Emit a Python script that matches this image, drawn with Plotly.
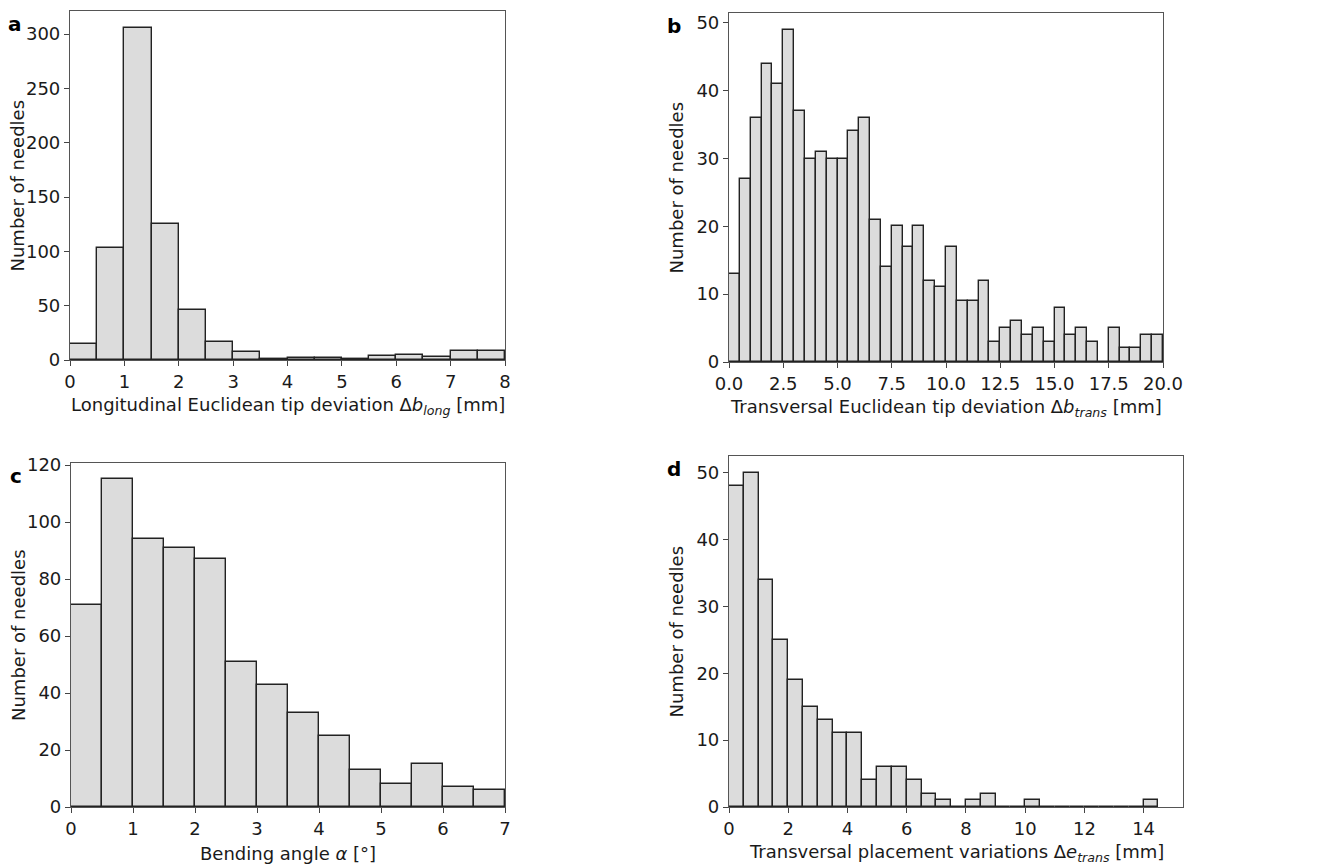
import plotly.graph_objects as go

# ---------------- data ----------------
bin_width = 0.5

long_dev_counts = [15, 103, 306, 125, 46, 17, 7, 1, 2, 2, 1, 4, 5, 3, 8, 8]          # 0..8 mm
trans_dev_counts = [13, 27, 36, 44, 41, 49, 37, 30, 31, 30, 30, 34, 36, 21, 14, 20,
                    17, 20, 12, 11, 17, 9, 9, 12, 3, 5, 6, 4, 5, 3, 8, 4, 5, 3, 0, 5,
                    2, 2, 4, 4]                                                          # 0..20 mm
bend_angle_counts = [71, 115, 94, 91, 87, 51, 43, 33, 25, 13, 8, 15, 7, 6]           # 0..7 deg
placement_counts = [48, 50, 34, 25, 19, 15, 13, 11, 11, 4, 6, 6, 4, 2, 1, 0, 1, 2,
                    0, 0, 1, 0, 0, 0, 0, 0, 0, 0, 1]                                    # 0..14.5 mm

a_ticks = [0, 1, 2, 3, 4, 5, 6, 7, 8]
a_yticks = [0, 50, 100, 150, 200, 250, 300]
b_ticks = [0.0, 2.5, 5.0, 7.5, 10.0, 12.5, 15.0, 17.5, 20.0]
b_tick_labels = ["0.0", "2.5", "5.0", "7.5", "10.0", "12.5", "15.0", "17.5", "20.0"]
b_yticks = [0, 10, 20, 30, 40, 50]
c_ticks = [0, 1, 2, 3, 4, 5, 6, 7]
c_yticks = [0, 20, 40, 60, 80, 100, 120]
d_ticks = [0, 2, 4, 6, 8, 10, 12, 14]
d_yticks = [0, 10, 20, 30, 40, 50]

x_titles = [
    "Longitudinal Euclidean tip deviation Δ<i>b</i><sub><i>long</i></sub> [mm]",
    "Transversal Euclidean tip deviation Δ<i>b</i><sub><i>trans</i></sub> [mm]",
    "Bending angle <i>α</i> [°]",
    "Transversal placement variations Δ<i>e</i><sub><i>trans</i></sub> [mm]",
]
y_title = "Number of needles"
panel_letters = ["a", "b", "c", "d"]

# ---------------- layout ----------------
W, H = 1336, 868
FONT = "DejaVu Sans"
TXT = "#1a1a1a"
FS = 18


def px(X):
    return X / W


def py(Y):
    return 1 - Y / H


# pixel boxes (screen coords): left, right, top, bottom
boxes = [
    (70, 505, 11, 360),
    (729, 1163, 13, 362),
    (71, 505, 463, 807),
    (729, 1183, 456, 807),
]
xranges = [[0, 8], [0, 20], [0, 7], [0, 15.33]]
yranges = [[0, 321.3], [0, 51.45], [0, 120.75], [0, 52.5]]
counts_list = [long_dev_counts, trans_dev_counts, bend_angle_counts, placement_counts]
xticks_list = [a_ticks, b_ticks, c_ticks, d_ticks]
xticktext_list = [[str(t) for t in a_ticks], b_tick_labels,
                  [str(t) for t in c_ticks], [str(t) for t in d_ticks]]
yticks_list = [a_yticks, b_yticks, c_yticks, d_yticks]

fig = go.Figure()
annotations = []
for i in range(4):
    counts = counts_list[i]
    centers = [bin_width * (k + 0.5) for k in range(len(counts))]
    xa = "x" if i == 0 else f"x{i+1}"
    ya = "y" if i == 0 else f"y{i+1}"
    fig.add_trace(go.Bar(
        x=centers, y=counts, width=bin_width,
        marker=dict(color="#dcdcdc", line=dict(color="#222222", width=1.4)),
        xaxis=xa, yaxis=ya, showlegend=False, hoverinfo="x+y",
    ))
    l, r, t, b = boxes[i]
    xkey = "xaxis" if i == 0 else f"xaxis{i+1}"
    ykey = "yaxis" if i == 0 else f"yaxis{i+1}"
    fig.layout[xkey] = dict(
        domain=[px(l), px(r)], anchor=ya, range=xranges[i], automargin=False,
        tickmode="array", tickvals=xticks_list[i], ticktext=xticktext_list[i],
        ticks="outside", ticklen=5, tickwidth=1.2, tickcolor="#444",
        showline=True, linecolor="#555", linewidth=1.2, mirror=True,
        showgrid=False, zeroline=False,
        tickfont=dict(family=FONT, size=FS, color=TXT),
    )
    fig.layout[ykey] = dict(
        domain=[py(b), py(t)], anchor=xa, range=yranges[i], automargin=False,
        tickmode="array", tickvals=yticks_list[i],
        ticks="outside", ticklen=5, tickwidth=1.2, tickcolor="#444",
        showline=True, linecolor="#555", linewidth=1.2, mirror=True,
        showgrid=False, zeroline=False,
        tickfont=dict(family=FONT, size=FS, color=TXT),
    )
    # x title
    annotations.append(dict(
        text=x_titles[i], xref="paper", yref="paper",
        x=px((l + r) / 2), y=py(b + 46), xanchor="center", yanchor="middle",
        showarrow=False, font=dict(family=FONT, size=FS, color=TXT),
    ))
    # y title
    annotations.append(dict(
        text=y_title, xref="paper", yref="paper",
        x=px(l - 53), y=py((t + b) / 2), xanchor="center", yanchor="middle",
        textangle=-90, showarrow=False, font=dict(family=FONT, size=FS, color=TXT),
    ))
    # panel letter
    annotations.append(dict(
        text=f"<b>{panel_letters[i]}</b>", xref="paper", yref="paper",
        x=px(l - 55), y=py(t + 13), xanchor="center", yanchor="middle",
        showarrow=False, font=dict(family=FONT, size=20, color="#000"),
    ))

fig.update_layout(
    width=W, height=H,
    margin=dict(l=0, r=0, t=0, b=0),
    paper_bgcolor="white", plot_bgcolor="white",
    bargap=0, annotations=annotations,
    font=dict(family=FONT, color=TXT),
)

fig.write_html(
    "out.html",
    config={"displayModeBar": False},
    post_script="document.body.style.margin='0';document.body.style.overflow='hidden';",
)
